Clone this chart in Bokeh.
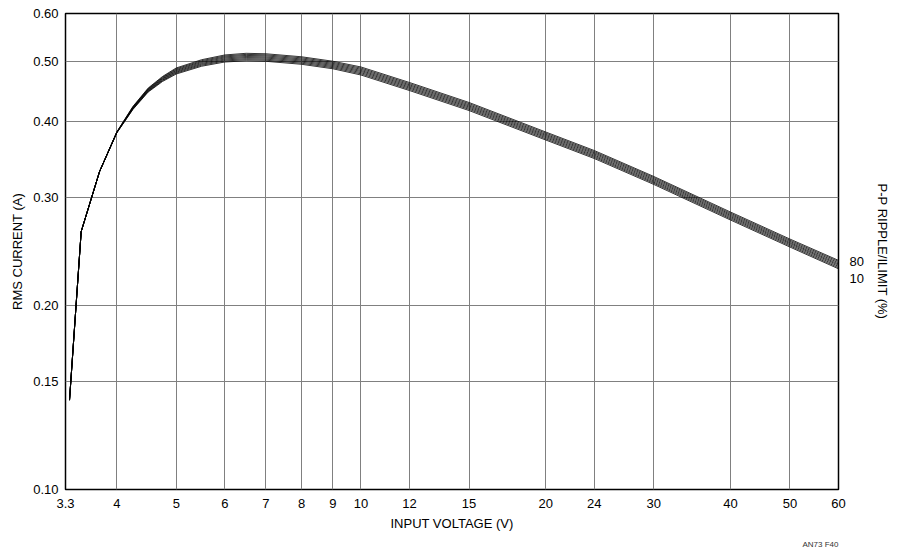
from bokeh.plotting import figure
from bokeh.models import Range1d, FixedTicker, CustomJSTickFormatter, LogAxis, Title
from bokeh.embed import file_html
from bokeh.resources import INLINE

# ---- data ----
x_ticks = [3.3, 4, 5, 6, 7, 8, 9, 10, 12, 15, 20, 24, 30, 40, 50, 60]
y_ticks = [0.10, 0.15, 0.20, 0.30, 0.40, 0.50, 0.60]

vin = [3.35, 3.5, 3.75, 4.0, 4.25, 4.5, 4.75, 5.0, 5.5, 6.0, 6.5, 7.0, 8.0, 9.0,
       10.0, 12.0, 15.0, 20.0, 24.0, 30.0, 40.0, 50.0, 60.0]

ripple = [10, 20, 30, 40, 50, 60, 70, 80]

i_10 = [0.140, 0.264, 0.331, 0.3827, 0.4181, 0.4464, 0.4646, 0.4778, 0.4920, 0.4999, 0.5021, 0.5012,
        0.4956, 0.4873, 0.4760, 0.4489, 0.4164, 0.3727, 0.3476, 0.3153, 0.2758, 0.2491, 0.2295]
i_20 = [0.140, 0.264, 0.331, 0.3829, 0.4188, 0.4474, 0.4659, 0.4794, 0.4938, 0.5018, 0.5042, 0.5033,
        0.4976, 0.4893, 0.4781, 0.4509, 0.4183, 0.3743, 0.3491, 0.3167, 0.2770, 0.2502, 0.2305]
i_30 = [0.140, 0.264, 0.331, 0.3831, 0.4195, 0.4483, 0.4671, 0.4810, 0.4955, 0.5037, 0.5062, 0.5053,
        0.4997, 0.4913, 0.4802, 0.4529, 0.4201, 0.3760, 0.3506, 0.3180, 0.2782, 0.2513, 0.2316]
i_40 = [0.140, 0.264, 0.331, 0.3833, 0.4202, 0.4493, 0.4684, 0.4825, 0.4972, 0.5056, 0.5083, 0.5074,
        0.5017, 0.4933, 0.4823, 0.4548, 0.4219, 0.3776, 0.3521, 0.3194, 0.2794, 0.2524, 0.2327]
i_50 = [0.140, 0.264, 0.331, 0.3835, 0.4208, 0.4503, 0.4696, 0.4841, 0.4990, 0.5076, 0.5103, 0.5094,
        0.5037, 0.4953, 0.4843, 0.4568, 0.4237, 0.3792, 0.3537, 0.3208, 0.2806, 0.2534, 0.2337]
i_60 = [0.140, 0.264, 0.331, 0.3837, 0.4215, 0.4513, 0.4709, 0.4856, 0.5007, 0.5095, 0.5124, 0.5115,
        0.5057, 0.4973, 0.4864, 0.4587, 0.4255, 0.3808, 0.3552, 0.3222, 0.2818, 0.2545, 0.2348]
i_70 = [0.140, 0.264, 0.331, 0.3839, 0.4222, 0.4522, 0.4721, 0.4872, 0.5024, 0.5114, 0.5144, 0.5135,
        0.5078, 0.4993, 0.4885, 0.4607, 0.4274, 0.3825, 0.3567, 0.3236, 0.2830, 0.2556, 0.2359]
i_80 = [0.140, 0.264, 0.331, 0.3841, 0.4229, 0.4532, 0.4734, 0.4888, 0.5042, 0.5133, 0.5165, 0.5156,
        0.5098, 0.5013, 0.4906, 0.4627, 0.4292, 0.3841, 0.3582, 0.3249, 0.2842, 0.2567, 0.2369]

series = [i_10, i_20, i_30, i_40, i_50, i_60, i_70, i_80]

# where the "80" / "10" end labels sit on the right edge (label placement, not data)
end_label_pos = [0.2358, 0.2213]
end_label_txt = [str(ripple[-1]), str(ripple[0])]

FONT = "'Liberation Sans Narrow', 'Liberation Sans', Arial, sans-serif"
FS = "13px"

p = figure(frame_width=773, frame_height=476,
           x_axis_type="log", y_axis_type="log",
           x_range=Range1d(x_ticks[0], x_ticks[-1]),
           y_range=Range1d(y_ticks[0], y_ticks[-1]),
           output_backend="svg", toolbar_location=None,
           min_border_left=65, min_border_right=40,
           min_border_top=13, min_border_bottom=50)

p.background_fill_color = "white"
p.border_fill_color = "white"
p.outline_line_color = "black"
p.outline_line_width = 1.5

p.xaxis.ticker = FixedTicker(ticks=x_ticks)
p.yaxis.ticker = FixedTicker(ticks=y_ticks)
p.xaxis.formatter = CustomJSTickFormatter(code="return String(tick);")
p.yaxis.formatter = CustomJSTickFormatter(code="return tick.toFixed(2);")

for ax in (p.xaxis, p.yaxis):
    ax.axis_line_color = None
    ax.major_tick_line_color = None
    ax.minor_tick_line_color = None
    ax.major_tick_out = 0
    ax.major_tick_in = 0
    ax.major_label_text_font = FONT
    ax.major_label_text_font_size = FS
    ax.major_label_text_color = "black"
    ax.axis_label_text_font = FONT
    ax.axis_label_text_font_size = FS
    ax.axis_label_text_font_style = "normal"
    ax.axis_label_text_color = "black"

p.xaxis.axis_label = "INPUT VOLTAGE (V)"
p.yaxis.axis_label = "RMS CURRENT (A)"
p.xaxis.major_label_standoff = 9
p.xaxis.axis_label_standoff = 5
p.yaxis.major_label_standoff = 7
p.yaxis.axis_label_standoff = 5

p.grid.grid_line_color = "#808080"
p.grid.grid_line_width = 1
p.grid.grid_line_alpha = 1.0

ra = LogAxis(ticker=FixedTicker(ticks=end_label_pos),
             formatter=CustomJSTickFormatter(
                 args=dict(pos=end_label_pos, txt=end_label_txt),
                 code="""
                 let best = 0, d = 1e9;
                 for (let i = 0; i < pos.length; i++) {
                   const e = Math.abs(pos[i] - tick);
                   if (e < d) { d = e; best = i; }
                 }
                 return txt[best];
                 """),
             axis_label="P-P RIPPLE/ILIMIT (%)",
             axis_line_color=None, major_tick_line_color=None, minor_tick_line_color=None,
             major_tick_out=0, major_tick_in=0,
             major_label_standoff=11, axis_label_standoff=8,
             major_label_text_font=FONT, major_label_text_font_size=FS,
             major_label_text_color="black",
             axis_label_text_font=FONT, axis_label_text_font_size=FS,
             axis_label_text_font_style="normal", axis_label_text_color="black")
p.add_layout(ra, "right")

for ys in series:
    p.line(vin, ys, line_color="black", line_width=0.8)

p.add_layout(Title(text="AN73 F40", align="right", text_font=FONT,
                   text_font_size="8px", text_font_style="normal",
                   text_color="#333333", standoff=9), "below")

open("out.html", "w").write(file_html(p, INLINE))
